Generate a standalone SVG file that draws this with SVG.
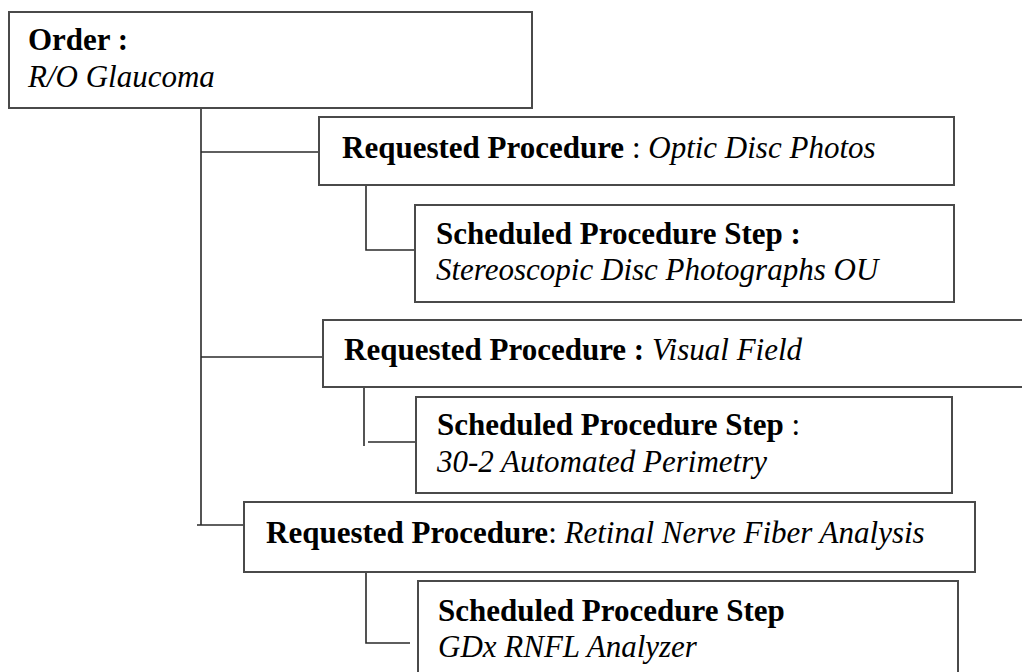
<svg xmlns="http://www.w3.org/2000/svg" width="1022" height="672" viewBox="0 0 1022 672">
  <style>
    .box { fill: #ffffff; stroke: #4a4a4a; stroke-width: 2; }
    .conn { fill: none; stroke: #2a2a2a; stroke-width: 1.6; }
    text { font-family: "Liberation Serif", "Times New Roman", serif; font-size: 31px; fill: #000; }
    .b { font-weight: bold; }
    .i { font-style: italic; }
  </style>
  <rect width="1022" height="672" fill="#ffffff"/>
  <g id="connectors">
    <line class="conn" x1="201" y1="108" x2="201" y2="525"/>
    <line class="conn" x1="201" y1="152" x2="319" y2="152"/>
    <line class="conn" x1="201" y1="357" x2="323" y2="357"/>
    <line class="conn" x1="197" y1="525" x2="244" y2="525"/>
    <polyline class="conn" points="366,178 366,250 415,250"/>
    <line class="conn" x1="364" y1="375" x2="364" y2="446"/>
    <line class="conn" x1="368" y1="442" x2="416" y2="442"/>
    <polyline class="conn" points="366,572 366,643 410,643"/>
  </g>
  <g id="order">
    <rect class="box" x="9" y="12" width="523" height="96"/>
    <text x="28" y="50" class="b">Order :</text>
    <text x="28" y="87" class="i">R/O Glaucoma</text>
  </g>
  <g id="rp1">
    <rect class="box" x="319" y="117" width="635" height="68"/>
    <text x="342" y="158"><tspan class="b">Requested Procedure</tspan> : <tspan class="i">Optic Disc Photos</tspan></text>
  </g>
  <g id="sps1">
    <rect class="box" x="415" y="205" width="539" height="97"/>
    <text x="436" y="244" class="b">Scheduled Procedure Step :</text>
    <text x="436" y="280" class="i">Stereoscopic Disc Photographs OU</text>
  </g>
  <g id="rp2">
    <rect class="box" x="323" y="320" width="710" height="67"/>
    <text x="344" y="360"><tspan class="b">Requested Procedure : </tspan><tspan class="i">Visual Field</tspan></text>
  </g>
  <g id="sps2">
    <rect class="box" x="416" y="397" width="536" height="96"/>
    <text x="437" y="435"><tspan class="b">Scheduled Procedure Step</tspan> :</text>
    <text x="437" y="472" class="i">30-2 Automated Perimetry</text>
  </g>
  <g id="rp3">
    <rect class="box" x="244" y="502" width="731" height="70"/>
    <text x="266" y="543"><tspan class="b">Requested Procedure</tspan>: <tspan class="i">Retinal Nerve Fiber Analysis</tspan></text>
  </g>
  <g id="sps3">
    <rect class="box" x="418" y="581" width="540" height="100"/>
    <text x="438" y="621" class="b">Scheduled Procedure Step</text>
    <text x="438" y="657" class="i">GDx RNFL Analyzer</text>
  </g>
</svg>
